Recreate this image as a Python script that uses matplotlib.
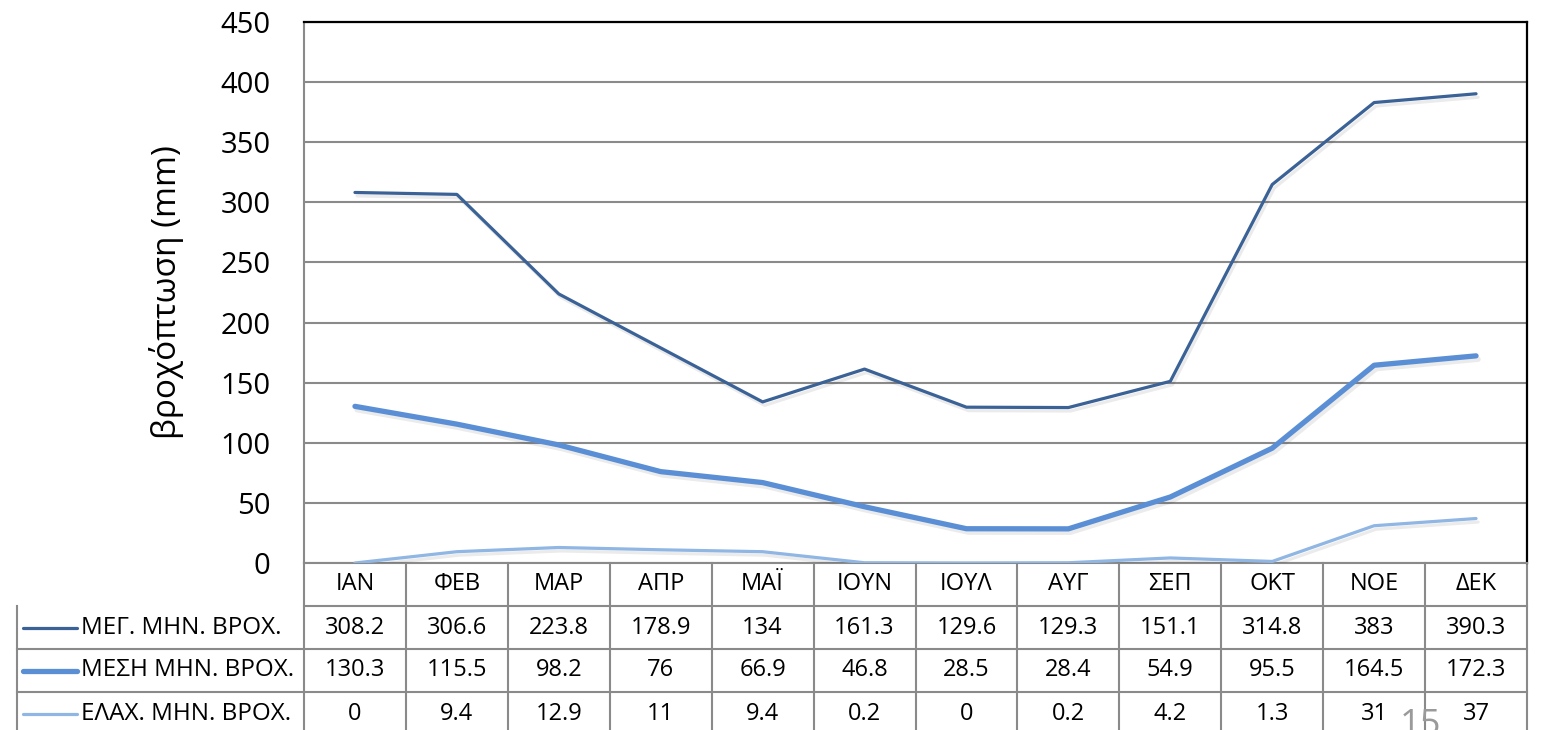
import matplotlib.pyplot as plt
import matplotlib.patheffects as pe
from matplotlib.transforms import blended_transform_factory
from matplotlib.lines import Line2D

plt.rcParams['font.family'] = ['Open Sans', 'DejaVu Sans']

months = ["ΙΑΝ", "ΦΕΒ", "ΜΑΡ", "ΑΠΡ", "ΜΑΪ", "ΙΟΥΝ", "ΙΟΥΛ", "ΑΥΓ", "ΣΕΠ", "ΟΚΤ", "ΝΟΕ", "ΔΕΚ"]
max_rain = [308.2, 306.6, 223.8, 178.9, 134, 161.3, 129.6, 129.3, 151.1, 314.8, 383, 390.3]
mean_rain = [130.3, 115.5, 98.2, 76, 66.9, 46.8, 28.5, 28.4, 54.9, 95.5, 164.5, 172.3]
min_rain = [0, 9.4, 12.9, 11, 9.4, 0.2, 0, 0.2, 4.2, 1.3, 31, 37]

series = [
    ("ΜΕΓ. ΜΗΝ. ΒΡΟΧ.", max_rain, "#3b6296", 2.3),
    ("ΜΕΣΗ ΜΗΝ. ΒΡΟΧ.", mean_rain, "#5a8fd5", 3.8),
    ("ΕΛΑΧ. ΜΗΝ. ΒΡΟΧ.", min_rain, "#90b6e4", 2.3),
]

W, H = 1543, 730
fig = plt.figure(figsize=(W / 100, H / 100), dpi=100)
left, right, top, bottom = 304, 1527, 22, 563
ax = fig.add_axes([left / W, 1 - bottom / H, (right - left) / W, (bottom - top) / H])

x = list(range(len(months)))
shadow = [pe.SimpleLineShadow(offset=(1.5, -2.5), shadow_color='#000000', alpha=0.08), pe.Normal()]
for name, vals, col, lw in series:
    ax.plot(x, vals, color=col, lw=lw, solid_capstyle='round', path_effects=shadow, zorder=3)

ax.set_xlim(-0.5, 11.5)
ax.set_ylim(0, 450)
ax.set_yticks(range(0, 451, 50))
ax.set_xticks([])
ax.tick_params(axis='y', length=0, labelsize=21, pad=24)
ax.yaxis.grid(True, color='#8a8a8a', lw=1.5)
ax.set_axisbelow(True)
ax.spines['left'].set_color('#8a8a8a')
ax.spines['bottom'].set_color('#8a8a8a')
for s in ['left', 'bottom']:
    ax.spines[s].set_linewidth(1.5)
for s in ['top', 'right']:
    ax.spines[s].set_color('black')
    ax.spines[s].set_linewidth(1.6)
ax.set_ylabel("βροχόπτωση (mm)", fontsize=24, labelpad=26)

# data table below the axis
tr = blended_transform_factory(ax.transData, ax.transAxes)
row_h = 43 / (bottom - top)
grid_kw = dict(color='#8a8a8a', lw=1.5, transform=tr, clip_on=False)
col_w = (right - left) / 12
label_x0 = -0.5 - (left - 17) / col_w

# vertical lines
for i in range(13):
    ax.add_line(Line2D([i - 0.5, i - 0.5], [0, -4.5 * row_h], **grid_kw))
ax.add_line(Line2D([label_x0, label_x0], [-row_h, -4.5 * row_h], **grid_kw))
# horizontal lines
ax.add_line(Line2D([-0.5, 11.5], [-row_h, -row_h], **grid_kw))
for r in range(2, 4):
    ax.add_line(Line2D([label_x0, 11.5], [-r * row_h, -r * row_h], **grid_kw))

for i, m in enumerate(months):
    ax.text(i, -0.5 * row_h, m, transform=tr, ha='center', va='center', fontsize=17)

for r, (name, vals, col, lw) in enumerate(series):
    yc = -(r + 1.5) * row_h
    sx0 = label_x0 + 6 / col_w
    sx1 = label_x0 + 60 / col_w
    ax.add_line(Line2D([sx0, sx1], [yc, yc], color=col, lw=lw, transform=tr,
                       clip_on=False, solid_capstyle='round'))
    ax.text(label_x0 + 64 / col_w, yc, name, transform=tr, ha='left', va='center', fontsize=17.5)
    for i, v in enumerate(vals):
        ax.text(i, yc, f"{v:g}", transform=tr, ha='center', va='center', fontsize=17)

fig.text(1420 / W, 1 - 708 / H, "15", color='#9a9a9a', fontsize=26, ha='center', va='top')

fig.savefig("out.png", dpi=100)
